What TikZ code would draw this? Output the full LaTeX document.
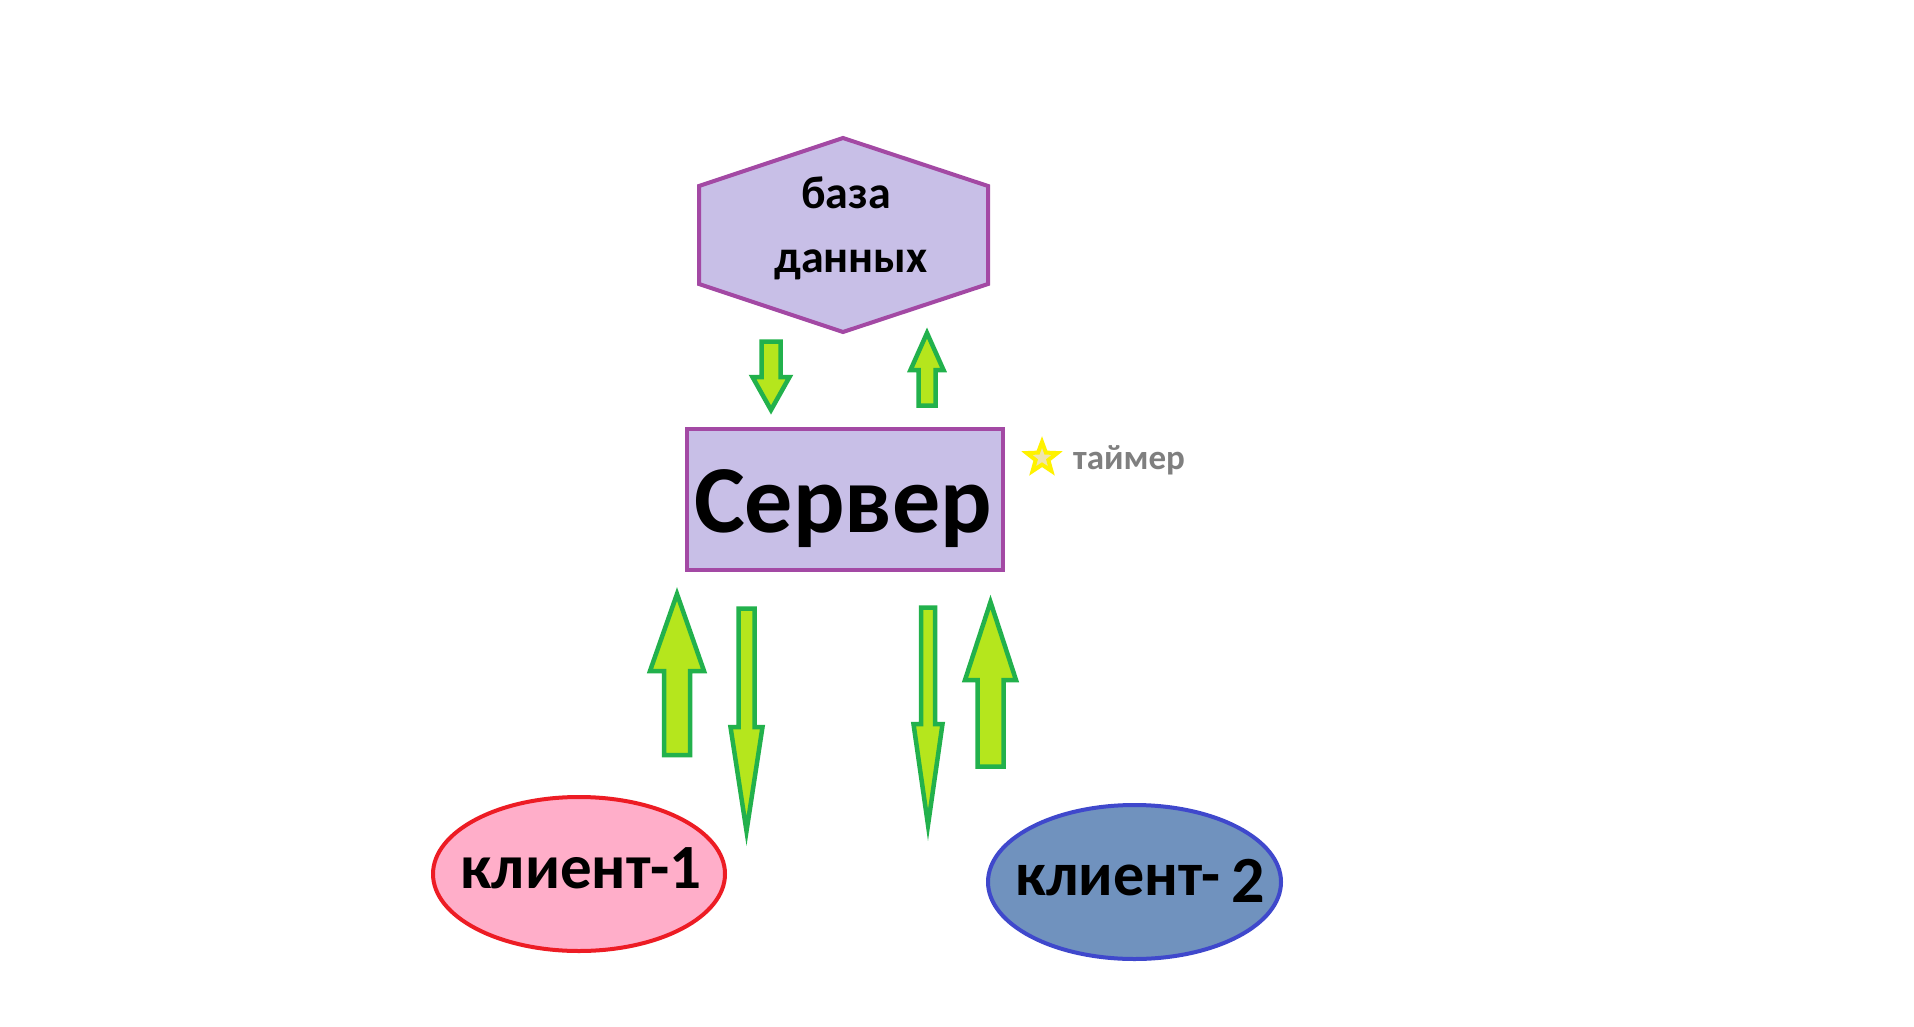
\documentclass[tikz,border=0pt]{standalone}
\usepackage{fontspec}
\setmainfont{Carlito}
\usetikzlibrary{shapes.geometric}
\definecolor{lav}{HTML}{C8BFE7}
\definecolor{purp}{HTML}{A349A4}
\definecolor{lime}{HTML}{B5E61D}
\definecolor{grn}{HTML}{22B14C}
\definecolor{pinkf}{HTML}{FFAEC9}
\definecolor{redd}{HTML}{ED1C24}
\definecolor{bluef}{HTML}{7092BE}
\definecolor{blued}{HTML}{3F48CC}
\definecolor{yel}{HTML}{FFF200}
\definecolor{starin}{HTML}{EFE4B0}
\definecolor{grey}{HTML}{7F7F7F}
\newcommand\barrow[6]{\draw[arrowbox] ({#1-#2},#3) -- ({#1-#2},#4) -- ({#1-#5},#4) -- (#1,#6) -- ({#1+#5},#4) -- ({#1+#2},#4) -- ({#1+#2},#3) -- cycle;}
\begin{document}
\begin{tikzpicture}[x=1pt,y=-1pt,
  arrowbox/.style={fill=lime,draw=grn,line width=4.5pt,miter limit=20},
  lavshape/.style={fill=lav,draw=purp,line width=4pt},
  lbl/.style={inner sep=0pt,anchor=base,font=\bfseries\fontsize{#1}{#1}\selectfont}]
\useasboundingbox[fill=white] (0,0) rectangle (1914,1027);
% database hexagon
\draw[lavshape] (843,138) -- (988,186) -- (988,284) -- (843,332) -- (699,284) -- (699,186) -- cycle;
\node[lbl=46] (db1) at (846,208) {база};
\node[lbl=46] (db2) at (851,272) {данных};
% server
\node[lavshape,rectangle,minimum width=316pt,minimum height=141pt,inner sep=0pt] (srv) at (845,499.5) {};
\node[lbl=96] (srvt) at (843,532) {Сервер};
% timer
\node[star,star points=5,star point ratio=2.4,minimum size=32pt,inner sep=0pt,fill=starin,draw=yel,line width=4pt] (star) at (1042,458) {};
\node[lbl=35,text=grey] (tmr) at (1129,469) {таймер};
% clients
\node[ellipse,fill=pinkf,draw=redd,line width=4pt,minimum width=292pt,minimum height=154pt,inner sep=0pt] (c1) at (579,874) {};
\node[lbl=63] (c1t) at (581,888) {клиент-1};
\node[ellipse,fill=bluef,draw=blued,line width=4pt,minimum width=293pt,minimum height=154pt,inner sep=0pt] (c2) at (1134.5,882) {};
\node[lbl=62] (c2t) at (1140,895) {клиент-\,\raisebox{-7pt}{\fontsize{66}{66}\selectfont 2}};
% arrows
\barrow{771}{9.5}{341.5}{377}{18.5}{410}
\barrow{927}{8.5}{405.5}{370}{16.5}{333}
\barrow{677}{13}{755}{671}{27}{594}
\barrow{746.5}{8}{608.5}{727}{16}{831}
\barrow{928}{7}{607.5}{724}{14.5}{825}
\barrow{990.5}{13}{766.5}{680}{25.5}{602}
\end{tikzpicture}
\end{document}
